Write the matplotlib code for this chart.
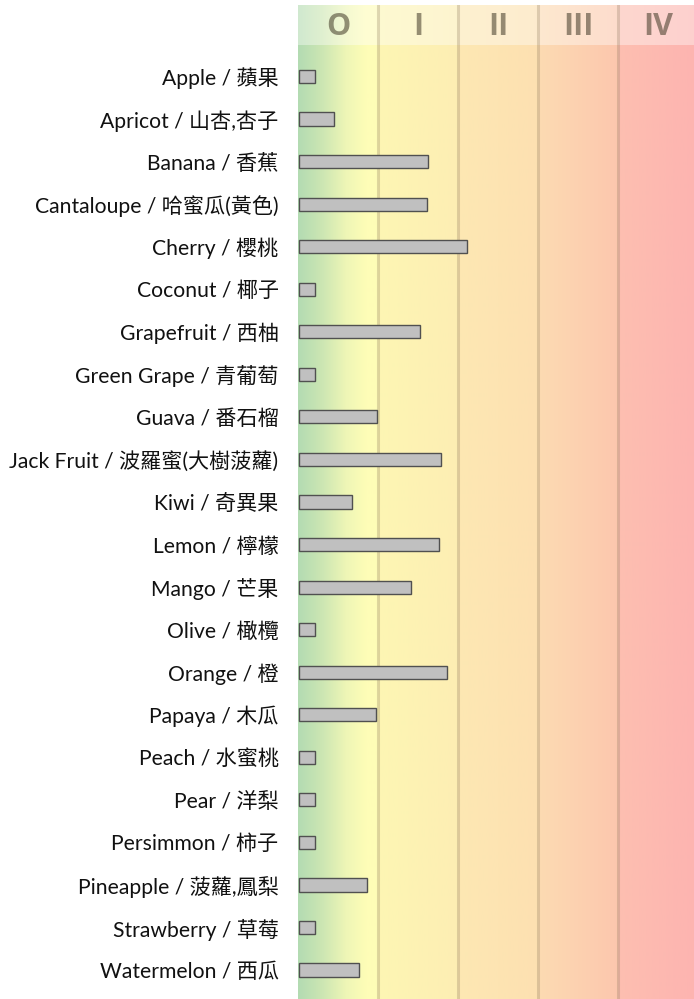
import numpy as np
import matplotlib
matplotlib.use("Agg")
import matplotlib.pyplot as plt

# fruit names (english / chinese) and bar values
fruits = ["Apple / 蘋果", "Apricot / 山杏,杏子", "Banana / 香蕉", "Cantaloupe / 哈蜜瓜(黃色)",
          "Cherry / 櫻桃", "Coconut / 椰子", "Grapefruit / 西柚", "Green Grape / 青葡萄",
          "Guava / 番石榴", "Jack Fruit / 波羅蜜(大樹菠蘿)", "Kiwi / 奇異果", "Lemon / 檸檬",
          "Mango / 芒果", "Olive / 橄欖", "Orange / 橙", "Papaya / 木瓜",
          "Peach / 水蜜桃", "Pear / 洋梨", "Persimmon / 柿子", "Pineapple / 菠蘿,鳳梨",
          "Strawberry / 草莓", "Watermelon / 西瓜"]
values = [2.0, 4.4, 16.1, 16.0,
          21.0, 2.0, 15.2, 2.0,
          9.8, 17.8, 6.6, 17.55,
          14.0, 2.0, 18.5, 9.7,
          2.0, 2.0, 2.0, 8.55,
          2.0, 7.5]
zones = ["O", "I", "II", "III", "IV"]
zone_edges = [0, 10, 20, 30, 40, 50]

XMAX = 49.5
Y_TOP, Y_HEAD, Y_BOT = -1.68, -0.74, 21.68

fig = plt.figure(figsize=(6.94, 9.99), dpi=100)
ax = fig.add_axes([298 / 694, 0, 396 / 694, 994 / 999])

# background gradient green -> yellow -> orange -> red
stops = [
    (0.0, "#b3dbb2"), (3.0, "#cce6b3"), (6.0, "#eef6b6"), (8.5, "#fefdb7"), (10.0, "#fffdb8"),
    (10.01, "#fdf6b4"), (20.0, "#fdeeb3"),
    (20.01, "#fde8b3"), (30.0, "#fde0b1"),
    (30.01, "#fddbb2"), (40.0, "#fcc7ae"),
    (40.01, "#fdbfb1"), (XMAX, "#fdb4b0"),
]
xs = np.linspace(0, XMAX, 800)
sx = [s[0] for s in stops]
rgb = np.array([matplotlib.colors.to_rgb(s[1]) for s in stops])
grad = np.stack([np.interp(xs, sx, rgb[:, k]) for k in range(3)], axis=-1)[None, :, :]
ax.imshow(grad, extent=[0, XMAX, Y_BOT, Y_HEAD], aspect="auto", interpolation="bilinear", zorder=0)
head = grad + (1 - grad) * 0.38
ax.imshow(head, extent=[0, XMAX, Y_HEAD, Y_TOP], aspect="auto", interpolation="bilinear", zorder=0)

for e in zone_edges[1:-1]:
    ax.axvline(e, color="#8c7a5a", alpha=0.28, lw=2.2, zorder=1)

for i, z in enumerate(zones):
    cx = (zone_edges[i] + zone_edges[i + 1]) / 2
    ax.text(cx, (Y_TOP + Y_HEAD) / 2 + 0.04, z, ha="center", va="center", fontsize=22,
            family="Open Sans", fontweight="bold", color=(0.25, 0.22, 0.15), alpha=0.55, zorder=2)

rows = np.arange(len(fruits))
ax.barh(rows, values, left=0.1, height=0.31, color="#c0c0c0", edgecolor="#505050", lw=1.0, zorder=3)

ax.set_xlim(0, XMAX)
ax.set_ylim(Y_BOT, Y_TOP)
ax.set_xticks([])
ax.set_yticks(rows)
ax.set_yticklabels(fruits, fontsize=15.2, family=["Lato", "Noto Sans CJK TC"], color="#111111")
ax.tick_params(axis="y", length=0, pad=14)
for s in ax.spines.values():
    s.set_visible(False)

fig.savefig("out.png", dpi=100)
